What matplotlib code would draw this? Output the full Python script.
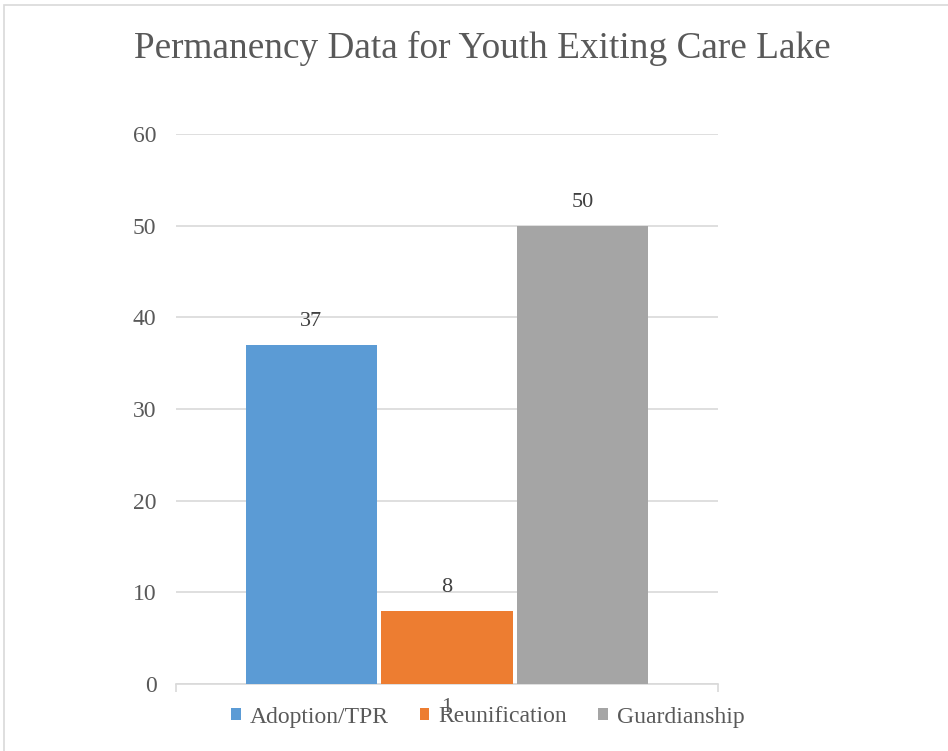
import matplotlib
matplotlib.use("Agg")
import matplotlib.pyplot as plt
from matplotlib.patches import Rectangle

categories = ["1"]
series = ["Adoption/TPR", "Reunification", "Guardianship"]
values = [37, 8, 50]
colors = ["#5B9BD5", "#ED7D31", "#A5A5A5"]
yticks = [0, 10, 20, 30, 40, 50, 60]
title = "Permanency Data for Youth Exiting Care Lake"

plt.rcParams["font.family"] = ["Liberation Serif", "DejaVu Serif"]

W, H = 948, 751
fig = plt.figure(figsize=(W / 100, H / 100), dpi=100)
fig.patches.append(Rectangle((4 / W, -0.2), 1.2, 0.2 + (H - 5) / H, transform=fig.transFigure,
                             fill=False, edgecolor="#D9D9D9", linewidth=1.2))

x0, x1, y0, y1 = 176, 718, 134, 684
ax = fig.add_axes([x0 / W, 1 - y1 / H, (x1 - x0) / W, (y1 - y0) / H])
ax.set_xlim(0, 1)
ax.set_ylim(0, 60)

width = 0.2417
offsets = [-0.2509, 0.0, 0.2509]
center = 0.5
for name, v, c, off in zip(series, values, colors, offsets):
    ax.bar(center + off, v, width=width, color=c, label=name, zorder=3)
    ax.text(center + off, v + 1.5, str(v), ha="center", va="bottom",
            fontsize=16, color="#404040", zorder=4)

ax.set_yticks(yticks)
ax.set_yticklabels([str(t) for t in yticks], fontsize=17, color="#595959")
ax.tick_params(axis="y", length=0, pad=14)
ax.grid(axis="y", color="#D9D9D9", linewidth=1.2, zorder=0)
ax.set_axisbelow(True)
for s in ["top", "right", "left"]:
    ax.spines[s].set_visible(False)
ax.spines["bottom"].set_color("#D9D9D9")
ax.spines["bottom"].set_linewidth(1.2)
ax.set_xticks([0, 1])
ax.set_xticklabels(["", ""])
ax.tick_params(axis="x", length=6, color="#D9D9D9", width=1.2)
ax.text(center, -2.6, categories[0], ha="center", va="center", fontsize=16,
        color="#595959")

fig.text(482 / W, 1 - 48 / H, title, ha="center", va="center", fontsize=26.8, color="#595959")

leg = fig.legend(loc="center", bbox_to_anchor=(488 / W, 1 - 717 / H), ncol=3,
                 frameon=False, fontsize=17, handlelength=0.4, handleheight=0.4,
                 handletextpad=0.4, columnspacing=1.3, labelcolor="#595959")

fig.savefig("out.png", dpi=100)
